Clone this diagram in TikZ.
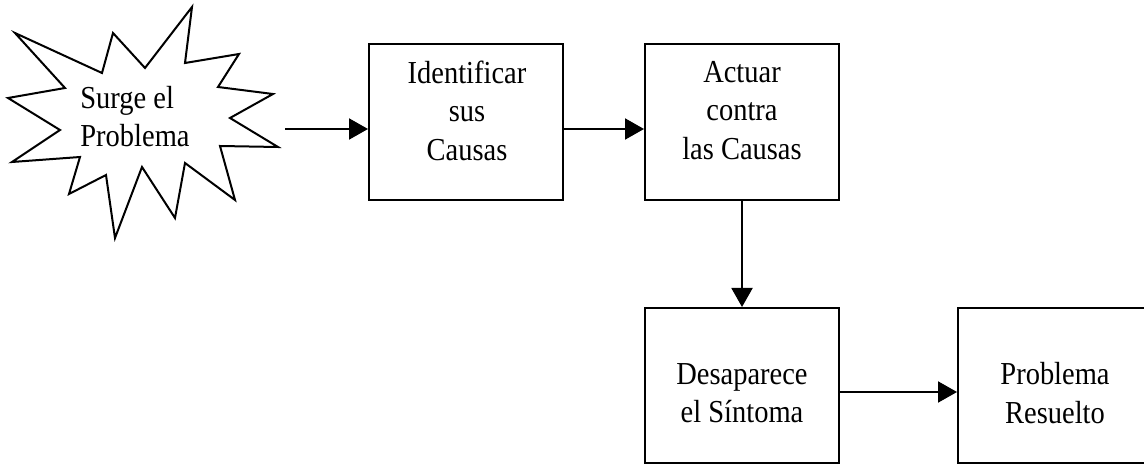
\documentclass[tikz,border=0pt]{standalone}
\usepackage{fontspec}
\setmainfont[FakeStretch=0.89]{Liberation Serif}
\usetikzlibrary{arrows.meta}
\begin{document}
\begin{tikzpicture}[x=0.5pt,y=-0.5pt,
  box/.style={draw, line width=1pt, minimum width=97pt, inner sep=0pt},
  txt/.style={inner sep=0pt, align=center, font=\fontsize{16}{19.25}\selectfont},
  arr/.style={line width=1pt, -{Triangle[length=9.5pt,width=10.5pt]}},
  burst/.style={draw, line width=1pt, line join=miter}]
\useasboundingbox (0,0) rectangle (1144,464);
\clip (0,0) rectangle (1144,464);
% starburst
\draw[burst] (192,7) -- (185,63) -- (239,54) -- (218,87) -- (273,94) -- (230,118)
  -- (278,147) -- (220,146) -- (235,200) -- (185,163) -- (175,218) -- (142,167)
  -- (115,238) -- (106,175) -- (69,194) -- (80,157) -- (12,162) -- (60,130)
  -- (8,98) -- (65,88) -- (15,33) -- (102,73) -- (113,33) -- (145,68) -- cycle;
\node[txt, align=left, anchor=west] (t0) at (80,116.5) {Surge el\\Problema};
% boxes
\node[box, minimum height=78pt] (b1) at (466,122) {};
\node[box, minimum height=78pt] (b2) at (742,122) {};
\node[box, minimum height=77.5pt] (b3) at (742,385.5) {};
\node[box, minimum height=77.5pt] (b4) at (1055,385.5) {};
% texts
\node[txt] (t1) at (467,110.7) {Identificar\\sus\\Causas};
\node[txt] (t2) at (742,110.2) {Actuar\\contra\\las Causas};
\node[txt] (t3) at (742,393) {Desaparece\\el Síntoma};
\node[txt] (t4) at (1055,393) {Problema\\Resuelto};
% arrows
\coordinate (s) at (285,129);
\draw[arr] (s) -- (s -| b1.west);
\draw[arr] (b1.east |- s) -- (s -| b2.west);
\draw[arr] (b2.south) -- (b3.north);
\draw[arr] ([yshift=-3.25pt]b3.east) -- ([yshift=-3.25pt]b4.west);
\end{tikzpicture}
\end{document}
